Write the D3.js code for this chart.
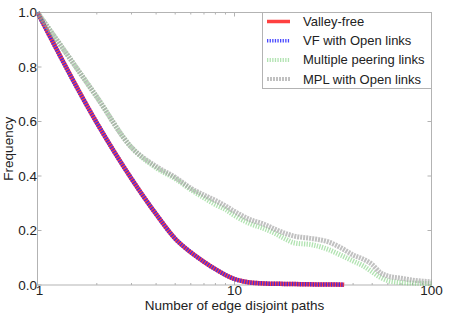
<!DOCTYPE html>
<html>
<head>
<meta charset="utf-8">
<script src="https://cdn.jsdelivr.net/npm/d3@7"></script>
<style>
  body { margin: 0; background: #fff; }
  svg text { font-family: "Liberation Sans", Arial, sans-serif; fill: #222; }
</style>
</head>
<body>
<svg id="chart" width="449" height="317"></svg>
<script>
// number of edge disjoint paths (x) for each series
var vfX = [1, 2, 3, 4, 5, 6, 7, 8, 9, 10, 11, 12, 13, 15, 18, 22, 27, 32, 36];
var valleyFree = [1.0, 0.595, 0.39, 0.26, 0.17, 0.12, 0.085, 0.058, 0.037, 0.022, 0.014, 0.009, 0.007, 0.005, 0.004, 0.003, 0.002, 0.002, 0.001];
var vfOpen = [1.0, 0.595, 0.39, 0.26, 0.17, 0.12, 0.085, 0.058, 0.037, 0.022, 0.014, 0.009, 0.007, 0.005, 0.004, 0.003, 0.002, 0.002, 0.001];

var mplX = [1, 2, 3, 4, 5, 6, 7, 8, 9, 10, 12, 14, 16, 18, 20, 25, 30, 35, 40, 45, 50, 55, 60, 70, 80, 90, 100];
var multiPeering = [1.0, 0.69, 0.505, 0.43, 0.39, 0.35, 0.32, 0.295, 0.277, 0.255, 0.225, 0.208, 0.19, 0.17, 0.155, 0.147, 0.13, 0.108, 0.088, 0.07, 0.048, 0.028, 0.016, 0.009, 0.007, 0.006, 0.005];
var mplOpen = [1.0, 0.69, 0.505, 0.435, 0.395, 0.355, 0.33, 0.31, 0.29, 0.27, 0.24, 0.224, 0.205, 0.19, 0.18, 0.17, 0.158, 0.135, 0.11, 0.095, 0.075, 0.045, 0.033, 0.025, 0.018, 0.014, 0.012];

var yTicks = [0, 0.2, 0.4, 0.6, 0.8, 1.0];
var xTicks = [1, 10, 100];
var legendNames = ["Valley-free", "VF with Open links", "Multiple peering links", "MPL with Open links"];

var margin = {left: 37.5, right: 17.5, top: 12.5, bottom: 32};
var W = 449, H = 317;

var svg = d3.select("#chart");

var x = d3.scaleLog().domain([1, 100]).range([margin.left, W - margin.right]);
var y = d3.scaleLinear().domain([0, 1]).range([H - margin.bottom, margin.top]);

var series = [
  {name: legendNames[0], xs: vfX, ys: valleyFree, color: "rgba(255,30,30,0.85)", width: 4.5, dash: null},
  {name: legendNames[1], xs: vfX, ys: vfOpen, color: "rgba(40,40,255,0.85)", width: 4.5, dash: "1.3,1.3"},
  {name: legendNames[2], xs: mplX, ys: multiPeering, color: "rgba(100,200,100,0.5)", width: 5, dash: "1.3,1.3"},
  {name: legendNames[3], xs: mplX, ys: mplOpen, color: "rgba(160,160,160,0.65)", width: 5, dash: "2,1"}
];

// frame
svg.append("rect")
  .attr("x", margin.left).attr("y", margin.top)
  .attr("width", W - margin.left - margin.right)
  .attr("height", H - margin.top - margin.bottom)
  .attr("fill", "none").attr("stroke", "#b3b3b3").attr("stroke-width", 1);

// ticks, pointing inward on all sides
var minor = [];
[1, 10].forEach(function(d) { for (var i = 2; i < 10; i++) minor.push(d * i); });
var tickG = svg.append("g").attr("stroke", "#b3b3b3").attr("stroke-width", 1);
var y0 = y(0), y1 = y(1);
minor.forEach(function(v) {
  tickG.append("line").attr("x1", x(v)).attr("x2", x(v)).attr("y1", y0).attr("y2", y0 - 2);
  tickG.append("line").attr("x1", x(v)).attr("x2", x(v)).attr("y1", y1).attr("y2", y1 + 2);
});
xTicks.forEach(function(v) {
  tickG.append("line").attr("x1", x(v)).attr("x2", x(v)).attr("y1", y0).attr("y2", y0 - 4);
  tickG.append("line").attr("x1", x(v)).attr("x2", x(v)).attr("y1", y1).attr("y2", y1 + 4);
});
yTicks.forEach(function(v) {
  tickG.append("line").attr("x1", x(1)).attr("x2", x(1) + 4).attr("y1", y(v)).attr("y2", y(v));
  tickG.append("line").attr("x1", x(100)).attr("x2", x(100) - 4).attr("y1", y(v)).attr("y2", y(v));
});

// tick labels
svg.append("g").selectAll("text").data(yTicks).enter().append("text")
  .attr("x", margin.left - 0.5).attr("y", function(d) { return y(d); })
  .attr("dy", "0.35em").attr("text-anchor", "end")
  .style("font-size", "13.5px")
  .text(function(d) { return d.toFixed(1); });

svg.append("g").selectAll("text").data(xTicks).enter().append("text")
  .attr("x", function(d) { return x(d) + (d === 1 ? 2 : 0); }).attr("y", y0 + 9.5)
  .attr("text-anchor", "middle")
  .style("font-size", "13.5px")
  .text(function(d) { return d; });

// axis titles
svg.append("text").attr("x", (margin.left + W - margin.right) / 2).attr("y", 310)
  .attr("text-anchor", "middle").style("font-size", "13.5px")
  .text("Number of edge disjoint paths");
svg.append("text").attr("transform", "translate(13," + ((y0 + y1) / 2) + ") rotate(-90)")
  .attr("text-anchor", "middle").style("font-size", "13.5px")
  .text("Frequency");

// lines
var line = d3.line().curve(d3.curveMonotoneX)
  .x(function(d) { return x(d[0]); })
  .y(function(d) { return y(d[1]); });

series.forEach(function(s) {
  var pts = s.xs.map(function(v, j) { return [v, s.ys[j]]; });
  svg.append("path").datum(pts)
    .attr("d", line)
    .attr("fill", "none")
    .attr("stroke", s.color)
    .attr("stroke-width", s.width)
    .attr("stroke-dasharray", s.dash);
});

// legend
var lg = svg.append("g");
lg.append("rect").attr("x", 262.5).attr("y", margin.top).attr("width", 169).attr("height", 76)
  .attr("fill", "#fff").attr("stroke", "#b3b3b3");
series.forEach(function(s, i) {
  var ly = 21.5 + i * 19.2;
  lg.append("line").attr("x1", 267).attr("x2", 290).attr("y1", ly).attr("y2", ly)
    .attr("stroke", s.color).attr("stroke-width", s.width - 1)
    .attr("stroke-dasharray", s.dash);
  lg.append("text").attr("x", 303).attr("y", ly).attr("dy", "0.35em")
    .style("font-size", "13px").text(s.name);
});
</script>
</body>
</html>
